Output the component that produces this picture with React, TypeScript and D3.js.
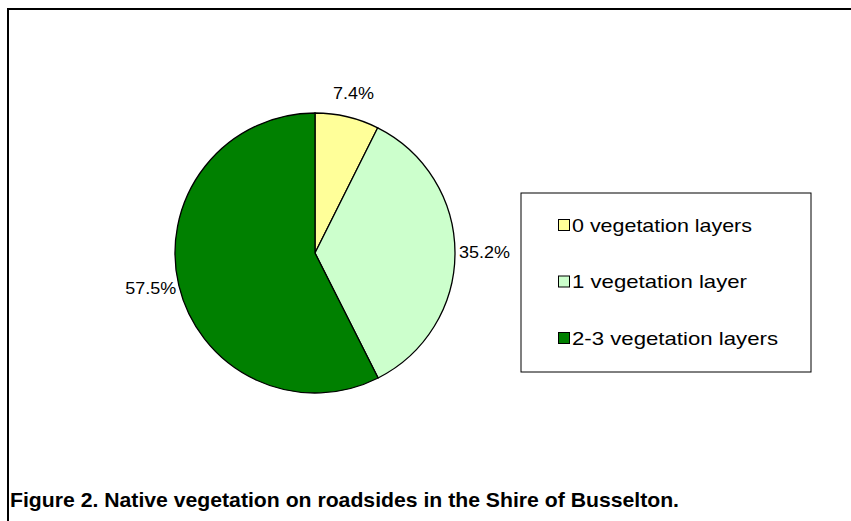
import React from "react";
import * as d3 from "d3";

const categories = ["0 vegetation layers", "1 vegetation layer", "2-3 vegetation layers"];
const values = [7.4, 35.2, 57.5];
const labels = ["7.4%", "35.2%", "57.5%"];
const colors = ["#FFFF99", "#CCFFCC", "#008000"];

export default function App() {
  const W = 851, H = 521;
  const cx = 315, cy = 253, r = 140;
  const pie = d3.pie<number>().sort(null).value((d) => d);
  const arcs = pie(values);
  const arc = d3.arc<d3.PieArcDatum<number>>().innerRadius(0).outerRadius(r);
  const font = "'Liberation Sans', Arial, sans-serif";
  const labelR = r + 14;
  const labelW = [41, 51, 51];

  return (
    <svg width={W} height={H} style={{ position: "absolute", left: 0, top: 0 }}>
      <rect width={W} height={H} fill="#fff" />
      <line x1={7} y1={9} x2={W} y2={9} stroke="#000" strokeWidth={2} />
      <line x1={8} y1={8} x2={8} y2={H} stroke="#000" strokeWidth={2} />
      <g transform={`translate(${cx},${cy})`}>
        {arcs.map((a, i) => (
          <path key={i} d={arc(a) || ""} fill={colors[i]} stroke="#000" strokeWidth={1.3} />
        ))}
        {arcs.map((a, i) => {
          const mid = (a.startAngle + a.endAngle) / 2;
          const x = Math.sin(mid) * labelR;
          const y = -Math.cos(mid) * labelR;
          const anchor = Math.abs(Math.sin(mid)) < 0.3 ? "middle" : Math.sin(mid) > 0 ? "start" : "end";
          const dx = anchor === "start" ? -10 : anchor === "end" ? 11 : 3;
          const dy = i === 0 ? -4 : 5;
          return (
            <text key={i} x={x + dx} y={y + dy} textAnchor={anchor} fontFamily={font} fontSize={17}
              textLength={labelW[i]} lengthAdjust="spacingAndGlyphs" fill="#000">
              {labels[i]}
            </text>
          );
        })}
      </g>
      <rect x={521} y={193} width={290} height={179} fill="#fff" stroke="#000" strokeWidth={1} />
      {categories.map((c, i) => {
        const y = 225 + i * 56.5;
        const tl = [180, 175, 206][i];
        return (
          <g key={i}>
            <rect x={558.5} y={y - 5.5} width={11} height={11} fill={colors[i]} stroke="#000" strokeWidth={1} />
            <text x={572} y={y + 6.5} fontFamily={font} fontSize={19} textLength={tl} lengthAdjust="spacingAndGlyphs" fill="#000">{c}</text>
          </g>
        );
      })}
      <text x={10} y={507} fontFamily={font} fontWeight="bold" fontSize={21} textLength={669} lengthAdjust="spacingAndGlyphs" fill="#000">
        Figure 2. Native vegetation on roadsides in the Shire of Busselton.
      </text>
    </svg>
  );
}
